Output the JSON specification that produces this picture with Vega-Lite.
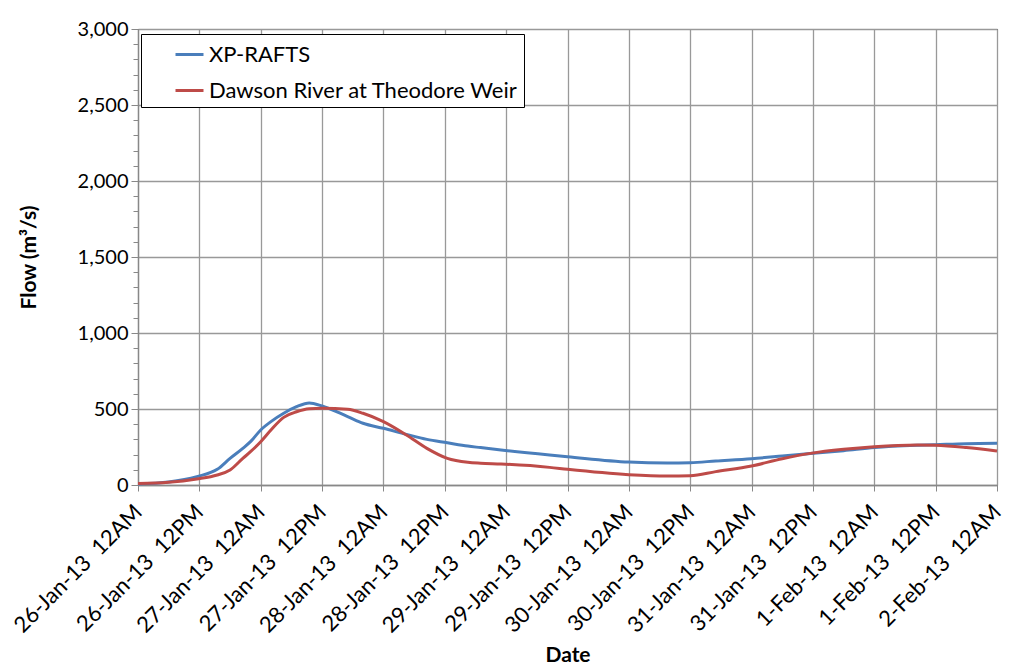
{
  "$schema": "https://vega.github.io/schema/vega-lite/v6.json",
  "width": 859,
  "height": 456,
  "autosize": {"type": "none"},
  "padding": {"left": 138, "top": 29, "right": 25, "bottom": 185},
  "background": "white",
  "config": {
    "font": "Lato",
    "view": {"stroke": "black", "strokeWidth": 1},
    "axis": {"labelFont": "Lato", "titleFont": "Lato", "labelColor": "black", "titleColor": "black"}
  },
  "data": {
    "values": [
      {"t": "2013-01-26T00:00:00", "series": "XP-RAFTS", "flow": 7},
      {"t": "2013-01-26T06:00:00", "series": "XP-RAFTS", "flow": 20},
      {"t": "2013-01-26T11:30:00", "series": "XP-RAFTS", "flow": 55},
      {"t": "2013-01-26T15:30:00", "series": "XP-RAFTS", "flow": 103},
      {"t": "2013-01-26T18:00:00", "series": "XP-RAFTS", "flow": 175},
      {"t": "2013-01-26T20:30:00", "series": "XP-RAFTS", "flow": 241},
      {"t": "2013-01-26T22:00:00", "series": "XP-RAFTS", "flow": 285},
      {"t": "2013-01-27T00:00:00", "series": "XP-RAFTS", "flow": 362},
      {"t": "2013-01-27T02:00:00", "series": "XP-RAFTS", "flow": 417},
      {"t": "2013-01-27T04:30:00", "series": "XP-RAFTS", "flow": 472},
      {"t": "2013-01-27T07:00:00", "series": "XP-RAFTS", "flow": 515},
      {"t": "2013-01-27T09:30:00", "series": "XP-RAFTS", "flow": 540},
      {"t": "2013-01-27T12:00:00", "series": "XP-RAFTS", "flow": 520},
      {"t": "2013-01-27T17:00:00", "series": "XP-RAFTS", "flow": 450},
      {"t": "2013-01-27T20:00:00", "series": "XP-RAFTS", "flow": 406},
      {"t": "2013-01-28T00:00:00", "series": "XP-RAFTS", "flow": 373},
      {"t": "2013-01-28T04:30:00", "series": "XP-RAFTS", "flow": 333},
      {"t": "2013-01-28T08:30:00", "series": "XP-RAFTS", "flow": 300},
      {"t": "2013-01-28T12:30:00", "series": "XP-RAFTS", "flow": 278},
      {"t": "2013-01-28T16:30:00", "series": "XP-RAFTS", "flow": 256},
      {"t": "2013-01-28T19:00:00", "series": "XP-RAFTS", "flow": 246},
      {"t": "2013-01-28T23:00:00", "series": "XP-RAFTS", "flow": 230},
      {"t": "2013-01-29T08:30:00", "series": "XP-RAFTS", "flow": 197},
      {"t": "2013-01-29T12:00:00", "series": "XP-RAFTS", "flow": 186},
      {"t": "2013-01-30T00:00:00", "series": "XP-RAFTS", "flow": 151},
      {"t": "2013-01-30T07:30:00", "series": "XP-RAFTS", "flow": 145},
      {"t": "2013-01-30T12:00:00", "series": "XP-RAFTS", "flow": 147},
      {"t": "2013-01-30T17:00:00", "series": "XP-RAFTS", "flow": 158},
      {"t": "2013-01-31T00:00:00", "series": "XP-RAFTS", "flow": 173},
      {"t": "2013-01-31T06:00:00", "series": "XP-RAFTS", "flow": 191},
      {"t": "2013-01-31T11:30:00", "series": "XP-RAFTS", "flow": 208},
      {"t": "2013-01-31T18:00:00", "series": "XP-RAFTS", "flow": 226},
      {"t": "2013-02-01T00:00:00", "series": "XP-RAFTS", "flow": 246},
      {"t": "2013-02-01T08:30:00", "series": "XP-RAFTS", "flow": 261},
      {"t": "2013-02-01T12:00:00", "series": "XP-RAFTS", "flow": 265},
      {"t": "2013-02-01T18:00:00", "series": "XP-RAFTS", "flow": 272},
      {"t": "2013-02-02T00:00:00", "series": "XP-RAFTS", "flow": 274},
      {"t": "2013-01-26T00:00:00", "series": "Dawson River at Theodore Weir", "flow": 10},
      {"t": "2013-01-26T06:00:00", "series": "Dawson River at Theodore Weir", "flow": 18},
      {"t": "2013-01-26T11:30:00", "series": "Dawson River at Theodore Weir", "flow": 40},
      {"t": "2013-01-26T15:30:00", "series": "Dawson River at Theodore Weir", "flow": 66},
      {"t": "2013-01-26T18:00:00", "series": "Dawson River at Theodore Weir", "flow": 99},
      {"t": "2013-01-26T20:30:00", "series": "Dawson River at Theodore Weir", "flow": 175},
      {"t": "2013-01-26T22:00:00", "series": "Dawson River at Theodore Weir", "flow": 219},
      {"t": "2013-01-27T00:00:00", "series": "Dawson River at Theodore Weir", "flow": 285},
      {"t": "2013-01-27T02:00:00", "series": "Dawson River at Theodore Weir", "flow": 362},
      {"t": "2013-01-27T04:30:00", "series": "Dawson River at Theodore Weir", "flow": 445},
      {"t": "2013-01-27T07:00:00", "series": "Dawson River at Theodore Weir", "flow": 482},
      {"t": "2013-01-27T09:30:00", "series": "Dawson River at Theodore Weir", "flow": 502},
      {"t": "2013-01-27T12:00:00", "series": "Dawson River at Theodore Weir", "flow": 505},
      {"t": "2013-01-27T17:00:00", "series": "Dawson River at Theodore Weir", "flow": 498},
      {"t": "2013-01-27T20:00:00", "series": "Dawson River at Theodore Weir", "flow": 472},
      {"t": "2013-01-28T00:00:00", "series": "Dawson River at Theodore Weir", "flow": 417},
      {"t": "2013-01-28T04:30:00", "series": "Dawson River at Theodore Weir", "flow": 329},
      {"t": "2013-01-28T08:30:00", "series": "Dawson River at Theodore Weir", "flow": 241},
      {"t": "2013-01-28T12:30:00", "series": "Dawson River at Theodore Weir", "flow": 175},
      {"t": "2013-01-28T16:30:00", "series": "Dawson River at Theodore Weir", "flow": 149},
      {"t": "2013-01-28T19:00:00", "series": "Dawson River at Theodore Weir", "flow": 143},
      {"t": "2013-01-28T23:00:00", "series": "Dawson River at Theodore Weir", "flow": 138},
      {"t": "2013-01-29T08:30:00", "series": "Dawson River at Theodore Weir", "flow": 116},
      {"t": "2013-01-29T12:00:00", "series": "Dawson River at Theodore Weir", "flow": 103},
      {"t": "2013-01-30T00:00:00", "series": "Dawson River at Theodore Weir", "flow": 68},
      {"t": "2013-01-30T07:30:00", "series": "Dawson River at Theodore Weir", "flow": 59},
      {"t": "2013-01-30T12:00:00", "series": "Dawson River at Theodore Weir", "flow": 61},
      {"t": "2013-01-30T17:00:00", "series": "Dawson River at Theodore Weir", "flow": 88},
      {"t": "2013-01-31T00:00:00", "series": "Dawson River at Theodore Weir", "flow": 125},
      {"t": "2013-01-31T06:00:00", "series": "Dawson River at Theodore Weir", "flow": 173},
      {"t": "2013-01-31T11:30:00", "series": "Dawson River at Theodore Weir", "flow": 208},
      {"t": "2013-01-31T18:00:00", "series": "Dawson River at Theodore Weir", "flow": 235},
      {"t": "2013-02-01T00:00:00", "series": "Dawson River at Theodore Weir", "flow": 252},
      {"t": "2013-02-01T08:30:00", "series": "Dawson River at Theodore Weir", "flow": 263},
      {"t": "2013-02-01T12:00:00", "series": "Dawson River at Theodore Weir", "flow": 261},
      {"t": "2013-02-01T18:00:00", "series": "Dawson River at Theodore Weir", "flow": 246},
      {"t": "2013-02-02T00:00:00", "series": "Dawson River at Theodore Weir", "flow": 224}
    ]
  },
  "layer": [
    {
      "mark": {"type": "line", "interpolate": "monotone", "strokeWidth": 3},
      "encoding": {
        "x": {
          "field": "t",
          "type": "temporal",
          "title": "Date",
          "scale": {"domain": [{"year": 2013, "month": 1, "date": 26}, {"year": 2013, "month": 2, "date": 2}], "nice": false},
          "axis": {
            "titleFontSize": 21,
            "titleFontWeight": "bold",
            "titlePadding": 8,
            "format": "%-d-%b-%y\u00a0 %I%p",
            "tickCount": 14,
            "labelAngle": -45,
            "labelAlign": "right",
            "labelBaseline": "middle",
            "labelFontSize": 22,
            "labelPadding": 17,
            "labelOverlap": false,
            "labelFlush": false,
            "tickSize": 6,
            "tickColor": "#888888",
            "domainColor": "#888888",
            "domainWidth": 1.3,
            "gridColor": "#999999",
            "gridWidth": 1.3
          }
        },
        "y": {
          "field": "flow",
          "type": "quantitative",
          "title": "Flow (m³/s)",
          "scale": {"domain": [0, 3000], "nice": false},
          "axis": {
            "titleFontSize": 21,
            "titleFontWeight": "bold",
            "titlePadding": 38,
            "values": [0, 500, 1000, 1500, 2000, 2500, 3000],
            "format": ",.0f",
            "labelFontSize": 20,
            "labelPadding": 3,
            "tickSize": 7,
            "tickColor": "#888888",
            "domainColor": "#888888",
            "domainWidth": 1.3,
            "gridColor": "#999999",
            "gridWidth": 1.3
          }
        },
        "color": {
          "field": "series",
          "type": "nominal",
          "scale": {"domain": ["XP-RAFTS", "Dawson River at Theodore Weir"], "range": ["#4a7ebb", "#be4b48"]},
          "legend": {
            "title": null,
            "orient": "none",
            "legendX": 3,
            "legendY": 5,
            "fillColor": "white",
            "strokeColor": "black",
            "padding": 5,
            "symbolType": "stroke",
            "symbolStrokeWidth": 3,
            "symbolSize": 784,
            "symbolOffset": 28,
            "labelFontSize": 22,
            "labelLimit": 600,
            "labelExpr": "datum.label + '\u2003\u2003'",
            "rowPadding": 9
          }
        }
      }
    },
    {
      "mark": {"type": "rule", "strokeOpacity": 0},
      "encoding": {
        "y": {
          "datum": 0,
          "type": "quantitative",
          "axis": {
            "orient": "left",
            "values": [100, 200, 300, 400, 600, 700, 800, 900, 1100, 1200, 1300, 1400, 1600, 1700, 1800, 1900, 2100, 2200, 2300, 2400, 2600, 2700, 2800, 2900],
            "labels": false,
            "title": null,
            "grid": false,
            "domain": false,
            "tickSize": 5,
            "tickColor": "#888888"
          }
        }
      }
    }
  ],
  "resolve": {"axis": {"y": "independent"}}
}
